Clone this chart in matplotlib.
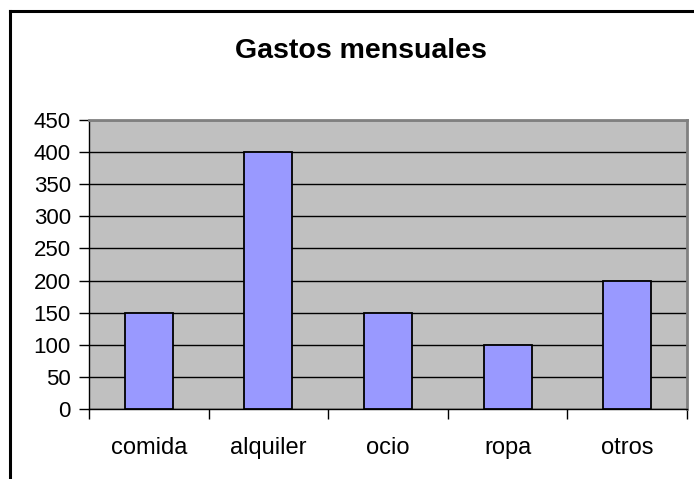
import matplotlib
matplotlib.use("Agg")
import matplotlib.pyplot as plt
from matplotlib.lines import Line2D

categorias = ["comida", "alquiler", "ocio", "ropa", "otros"]
gastos = [150, 400, 150, 100, 200]
yticks = [0, 50, 100, 150, 200, 250, 300, 350, 400, 450]

plt.rcParams['font.family'] = ['Liberation Sans', 'DejaVu Sans']

fig = plt.figure(figsize=(6.94, 4.79), dpi=100)
W, H = 694, 479
ax = fig.add_axes([89 / W, 1 - 409 / H, (687 - 89) / W, (409 - 120) / H])
ax.set_facecolor('#C0C0C0')

x = range(len(categorias))
ax.bar(x, gastos, width=0.4, color='#9999FF', edgecolor='black', linewidth=1.3, zorder=3)

ax.set_xlim(-0.5, len(categorias) - 0.5)
ax.set_ylim(0, 450)
ax.set_yticks(yticks)
ax.yaxis.grid(True, color='black', linewidth=1.0, zorder=1)
ax.set_axisbelow(True)

ax.set_xticks([i - 0.5 for i in range(len(categorias) + 1)])
ax.set_xticklabels([])
ax.set_xticks(list(x), minor=True)
ax.set_xticklabels(categorias, minor=True)
ax.tick_params(axis='x', which='minor', length=0, pad=20, labelsize=17)
ax.tick_params(axis='x', which='major', length=7, width=1, direction='out')
ax.tick_params(axis='y', length=7, width=1, direction='out', labelsize=16, pad=6)

for s in ['top', 'right']:
    ax.spines[s].set_color('#808080')
    ax.spines[s].set_linewidth(2)
for s in ['left', 'bottom']:
    ax.spines[s].set_color('black')
    ax.spines[s].set_linewidth(1)

fig.text(361 / W, 1 - 58 / H, "Gastos mensuales", ha='center', va='baseline',
         fontsize=20.5, fontweight='bold')

# borde del gráfico (recortado a la derecha y abajo)
fig.add_artist(Line2D([9.5 / W, 1], [1 - 10.5 / H, 1 - 10.5 / H], color='black', linewidth=2.2,
                      transform=fig.transFigure))
fig.add_artist(Line2D([9.5 / W, 9.5 / W], [0, 1 - 10.5 / H], color='black', linewidth=2.2,
                      transform=fig.transFigure))

fig.savefig('out.png', dpi=100)
